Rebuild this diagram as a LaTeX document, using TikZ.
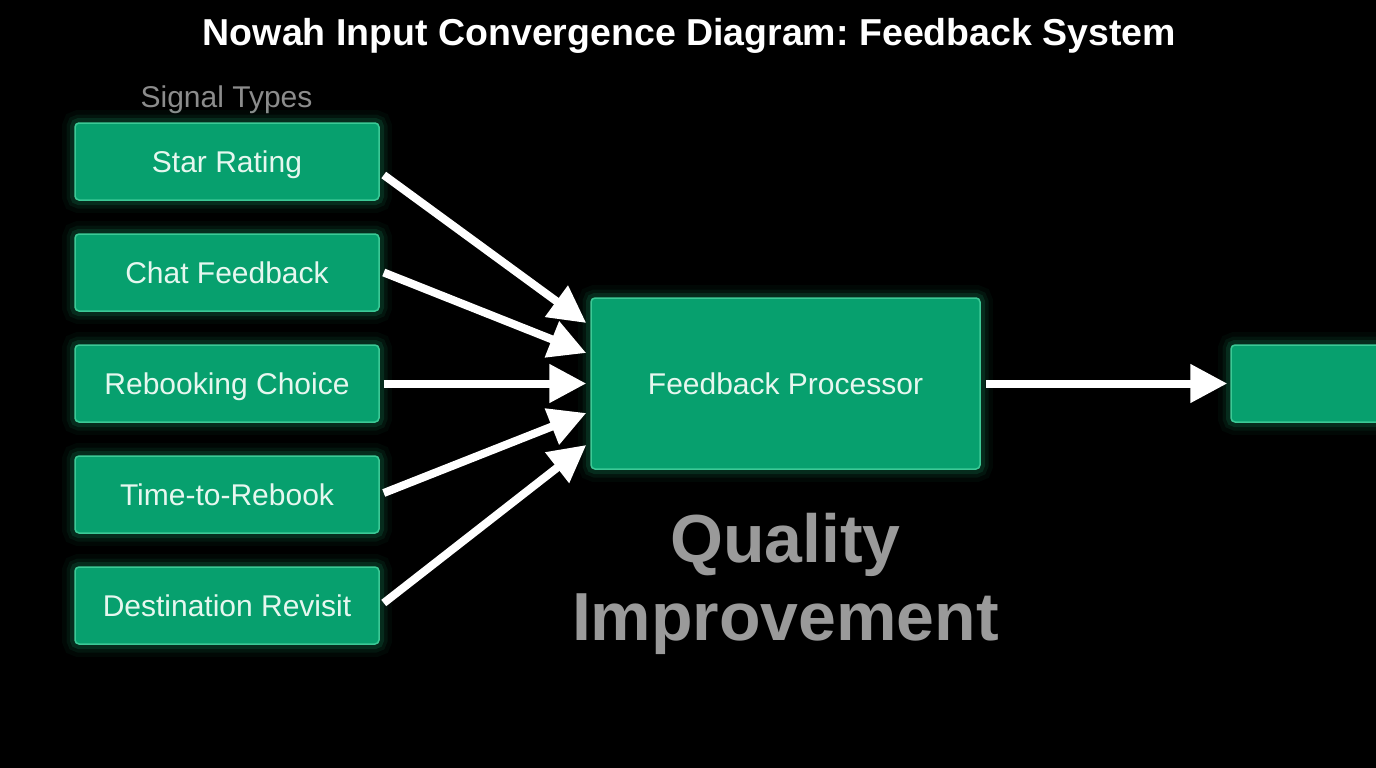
\documentclass[tikz,border=0pt]{standalone}
\usepackage{fontspec}
\setmainfont{Liberation Sans}
\usetikzlibrary{arrows.meta}
\definecolor{boxg}{HTML}{07A06E}
\definecolor{boxline}{HTML}{3CC996}
\definecolor{glowc}{HTML}{1FD08E}
\definecolor{boxtext}{HTML}{E6F7EF}
\definecolor{greytext}{HTML}{8C8C8C}
\definecolor{bigtext}{HTML}{9A9A9A}
\tikzset{
  glow/.style={
    preaction={draw=glowc, line width=26pt, opacity=0.04},
    preaction={draw=glowc, line width=17pt, opacity=0.07},
    preaction={draw=glowc, line width=10pt, opacity=0.12}},
  gbox/.style={glow, rectangle, rounded corners=4pt, fill=boxg, draw=boxline,
    line width=1.5pt, text=boxtext, inner sep=0pt, text height=22pt, text depth=0pt,
    font=\fontsize{30}{36}\selectfont},
  sigbox/.style={gbox, minimum width=304pt, minimum height=77pt},
  conn/.style={draw=white, line width=8pt, -{Triangle[length=37pt,width=37pt]}},
}
\begin{document}
\frenchspacing
\begin{tikzpicture}[x=1pt,y=-1pt]
\fill[black] (0,0) rectangle (1376,768);
\useasboundingbox (0,0) rectangle (1376,768);
\clip (0,0) rectangle (1376,768);

\node[anchor=base, text=white, font=\bfseries\fontsize{37.5}{44}\selectfont] (title) at (689.5,46) {Nowah Input Convergence Diagram: Feedback System};
\node[anchor=base, text=greytext, font=\fontsize{30}{36}\selectfont] (sigt) at (226.5,107) {Signal Types};

\node[sigbox] (s1) at (227,161.5) {Star Rating};
\node[sigbox] (s2) at (227,272.5) {Chat Feedback};
\node[sigbox] (s3) at (227,383.5) {Rebooking Choice};
\node[sigbox] (s4) at (227,494.5) {Time-to-Rebook};
\node[sigbox] (s5) at (227,605.5) {Destination Revisit};

\node[gbox, minimum width=389pt, minimum height=171pt] (proc) at (785.5,383.5) {Feedback Processor};
\node[gbox, minimum width=269pt, minimum height=77pt] (out) at (1365.5,383.5) {};

\draw[conn] ([xshift=4pt,yshift=-13.5pt]s1.east) -- ([xshift=-4pt,yshift=60.5pt]proc.west);
\draw[conn] ([xshift=4pt]s2.east) -- ([xshift=-4pt,yshift=30.5pt]proc.west);
\draw[conn] ([xshift=4pt]s3.east) -- ([xshift=-4pt]proc.west);
\draw[conn] ([xshift=4pt,yshift=1.5pt]s4.east) -- ([xshift=-4pt,yshift=-29.5pt]proc.west);
\draw[conn] ([xshift=4pt,yshift=2.5pt]s5.east) -- ([xshift=-4pt,yshift=-61.5pt]proc.west);
\draw[conn] ([xshift=5pt]proc.east) -- ([xshift=-3pt]out.west);

\node[anchor=base, text=bigtext, font=\bfseries\fontsize{68}{78}\selectfont] (q1) at (785.5,562) {Quality};
\node[anchor=base, text=bigtext, font=\bfseries\fontsize{68}{78}\selectfont] (q2) at (785.5,640) {Improvement};
\end{tikzpicture}
\end{document}
